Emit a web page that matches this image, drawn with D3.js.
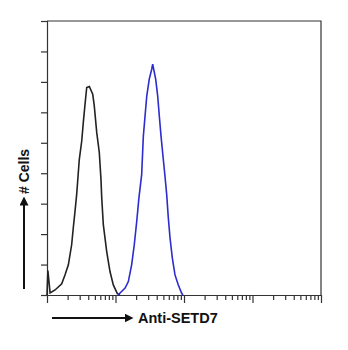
<!DOCTYPE html>
<html>
<head>
  <script src="https://d3js.org/d3.v7.min.js"></script>
  <style>
    body { margin: 0; background: #fff; }
    .hist { fill: none; stroke-width: 1.6; stroke-linejoin: miter; }
    .control { stroke: #222; }
    .setd7 { stroke: #2c2ccf; }
    .lbl { font-family: "Liberation Sans", Arial, sans-serif; font-weight: bold; fill: #111; }
  </style>
</head>
<body>
  <div class="chart"></div>
  <script>
    // Isotype control histogram (intensity, cell count)
    const controlIntensity = [1.0, 1.03, 1.11, 1.31, 1.64, 1.83, 2.05, 2.29, 2.42, 2.56, 2.71, 2.96, 3.21, 3.39, 3.59, 3.80, 4.15, 4.65, 4.90, 5.32, 5.80, 6.14, 6.29, 6.64, 7.44, 8.31, 9.29, 10.6, 11.6];
    const controlCount = [0, 16, 1.3, 3.3, 7.3, 13.2, 19.8, 33, 44.2, 54.7, 65.9, 89, 101, 113.4, 125.3, 136.3, 137, 131.9, 124.2, 106.8, 93.6, 75.8, 64, 46.2, 28.5, 15.4, 6.6, 1.1, 0];

    // Anti-SETD7 histogram
    const setd7Intensity = [10.9, 13.8, 15.4, 17.2, 18.8, 20.4, 22.0, 24.1, 25.5, 27.0, 28.6, 31.1, 33.8, 34.9, 38.6, 41.3, 43.6, 46.2, 49.9, 52.8, 55.9, 59.0, 62.5, 67.5, 73.9, 82.6, 92.5, 96.6];
    const setd7Count = [0, 4.6, 8.8, 19.8, 33, 48.3, 64, 79.1, 104.4, 117.6, 130.7, 141.8, 148.3, 151.6, 141.8, 130.7, 117.6, 104.4, 89, 78, 65.9, 50.8, 37.6, 24.4, 13.2, 6.6, 1.1, 0];

    const xDomain = [1, 10000];
    const yDomain = [0, 180];
    const yTicks = [0, 20, 40, 60, 80, 100, 120, 140, 160, 180];
    const xLabel = "Anti-SETD7";
    const yLabel = "# Cells";

    const width = 348, height = 350;
    const margin = { left: 47, right: 27, top: 21, bottom: 55 };

    const svg = d3.select(".chart").append("svg")
      .attr("width", width)
      .attr("height", height);

    const x = d3.scaleLog().domain(xDomain).range([margin.left, width - margin.right]);
    const y = d3.scaleLinear().domain(yDomain).range([height - margin.bottom, margin.top]);

    // frame top/right
    svg.append("path")
      .attr("d", `M${x(xDomain[0])},${y(yDomain[1])}H${x(xDomain[1])}V${y(0)}`)
      .attr("fill", "none")
      .attr("stroke", "#333")
      .attr("stroke-width", 1.2);

    // left axis
    const yAxis = svg.append("g")
      .attr("transform", `translate(${margin.left},0)`)
      .call(d3.axisLeft(y).tickValues(yTicks).tickSize(6).tickFormat(""));

    // bottom log axis: minor + decade ticks
    const allTicks = [];
    for (let d = 1; d < xDomain[1]; d *= 10) {
      for (let k = 1; k < 10; k++) allTicks.push(d * k);
    }
    allTicks.push(xDomain[1]);
    const majors = allTicks.filter(v => Math.abs(Math.log10(v) - Math.round(Math.log10(v))) < 1e-9);
    const minors = allTicks.filter(v => !majors.includes(v));

    const xAxisMinor = svg.append("g")
      .attr("transform", `translate(0,${y(0)})`)
      .call(d3.axisBottom(x).tickValues(minors).tickSize(5).tickFormat("").tickSizeOuter(0));
    const xAxisMajor = svg.append("g")
      .attr("transform", `translate(0,${y(0)})`)
      .call(d3.axisBottom(x).tickValues(majors).tickSize(8).tickFormat("").tickSizeOuter(0));

    [yAxis, xAxisMinor, xAxisMajor].forEach(a => {
      a.selectAll("path, line").attr("stroke", "#333").attr("stroke-width", 1.2);
    });

    // histograms
    const line = d3.line()
      .x(d => x(d[0]))
      .y(d => y(d[1]));

    svg.append("path")
      .datum(d3.zip(controlIntensity, controlCount))
      .attr("class", "hist control")
      .attr("d", line);

    svg.append("path")
      .datum(d3.zip(setd7Intensity, setd7Count))
      .attr("class", "hist setd7")
      .attr("d", line);

    // arrow marker
    svg.append("defs").append("marker")
      .attr("id", "arr")
      .attr("viewBox", "0 0 10 10")
      .attr("refX", 5).attr("refY", 5)
      .attr("markerWidth", 4.5).attr("markerHeight", 4.5)
      .attr("orient", "auto")
      .append("path")
      .attr("d", "M0,0L10,5L0,10z")
      .attr("fill", "#111");

    // x label with arrow
    svg.append("line")
      .attr("x1", 52).attr("y1", 318).attr("x2", 129).attr("y2", 318)
      .attr("stroke", "#111").attr("stroke-width", 2)
      .attr("marker-end", "url(#arr)");
    svg.append("text")
      .attr("class", "lbl")
      .attr("x", 138).attr("y", 323)
      .attr("font-size", 14.5)
      .text(xLabel);

    // y label with arrow
    svg.append("line")
      .attr("x1", 24).attr("y1", 289).attr("x2", 24).attr("y2", 201)
      .attr("stroke", "#111").attr("stroke-width", 2)
      .attr("marker-end", "url(#arr)");
    svg.append("text")
      .attr("class", "lbl")
      .attr("transform", "translate(29,194) rotate(-90)")
      .attr("font-size", 14)
      .text(yLabel);
  </script>
</body>
</html>
